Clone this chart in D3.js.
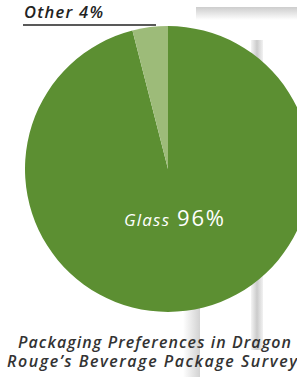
<!DOCTYPE html>
<html>
<head>
<meta charset="utf-8">
<script src="https://cdn.jsdelivr.net/npm/d3@7"></script>
<style>
  body { margin: 0; background: #fff; }
  text { font-family: "Open Sans", Lato, sans-serif; }
</style>
</head>
<body>
<div id="chart"></div>
<script>
// chart values
const categories = ["Glass", "Other"];
const shares = [96, 4];
const sliceColors = ["#5c8f32", "#9dbb79"];
const titleLines = ["Packaging Preferences in Dragon", "Rouge\u2019s Beverage Package Survey"];

const width = 297, height = 377;
const cx = 168, cy = 169, radius = 143;

const svg = d3.select("#chart").append("svg")
    .attr("width", width)
    .attr("height", height);

// soft gray card shadows in the background
const defs = svg.append("defs");
function grad(id, x1, y1, x2, y2, stops) {
  const g = defs.append("linearGradient").attr("id", id)
      .attr("x1", x1).attr("y1", y1).attr("x2", x2).attr("y2", y2);
  stops.forEach(s => g.append("stop").attr("offset", s[0]).attr("stop-color", s[1]));
}
grad("shDown", 0, 0, 0, 1, [[0, "#cdcdcd"], [1, "#ffffff"]]);
grad("shRight", 0, 0, 1, 0, [[0, "#f4f4f4"], [0.5, "#cbcbcb"], [1, "#f2f2f2"]]);
grad("shLeft", 0, 0, 1, 0, [[0, "#ffffff"], [1, "#d2d2d2"]]);

const bg = svg.append("g");
bg.append("rect").attr("x", 196).attr("y", 7).attr("width", 101).attr("height", 13).attr("fill", "url(#shDown)");
bg.append("rect").attr("x", 251).attr("y", 40).attr("width", 12).attr("height", 310).attr("fill", "url(#shRight)");
bg.append("rect").attr("x", 183).attr("y", 300).attr("width", 17).attr("height", 77).attr("fill", "url(#shLeft)");

// pie
const pie = d3.pie().sort(null).value(d => d.value);
const arc = d3.arc().innerRadius(0).outerRadius(radius);
const data = categories.map((c, i) => ({ name: c, value: shares[i] }));

svg.append("g")
    .attr("transform", `translate(${cx},${cy})`)
  .selectAll("path")
  .data(pie(data))
  .join("path")
    .attr("d", arc)
    .attr("fill", (d, i) => sliceColors[i]);

// Other label with underline
svg.append("text")
    .attr("x", 24)
    .attr("y", 18)
    .attr("fill", "#222")
    .attr("textLength", 79)
    .attr("lengthAdjust", "spacing")
    .style("font-size", "16.5px")
    .style("font-style", "italic")
    .style("font-weight", 600)
    .text(`${categories[1]} ${shares[1]}%`);

svg.append("line")
    .attr("x1", 23).attr("x2", 156)
    .attr("y1", 25).attr("y2", 25)
    .attr("stroke", "#222")
    .attr("stroke-width", 1.5);

// Glass label inside the pie
svg.append("text")
    .attr("x", 124)
    .attr("y", 226)
    .attr("fill", "#fff")
    .attr("textLength", 45)
    .attr("lengthAdjust", "spacing")
    .style("font-size", "17px")
    .style("font-style", "italic")
    .text(categories[0]);
svg.append("text")
    .attr("x", 177)
    .attr("y", 226)
    .attr("fill", "#fff")
    .attr("textLength", 47)
    .attr("lengthAdjust", "spacing")
    .style("font-size", "22px")
    .text(`${shares[0]}%`);

// title, two lines
titleLines.forEach((t, i) => {
  svg.append("text")
      .attr("x", i === 0 ? 18 : 7)
      .attr("y", 348 + i * 19)
      .attr("fill", "#333")
      .attr("textLength", i === 0 ? 273 : 290)
      .attr("lengthAdjust", "spacing")
      .style("font-size", "16px")
      .style("font-style", "italic")
      .style("font-weight", 600)
      .text(t);
});
</script>
</body>
</html>
